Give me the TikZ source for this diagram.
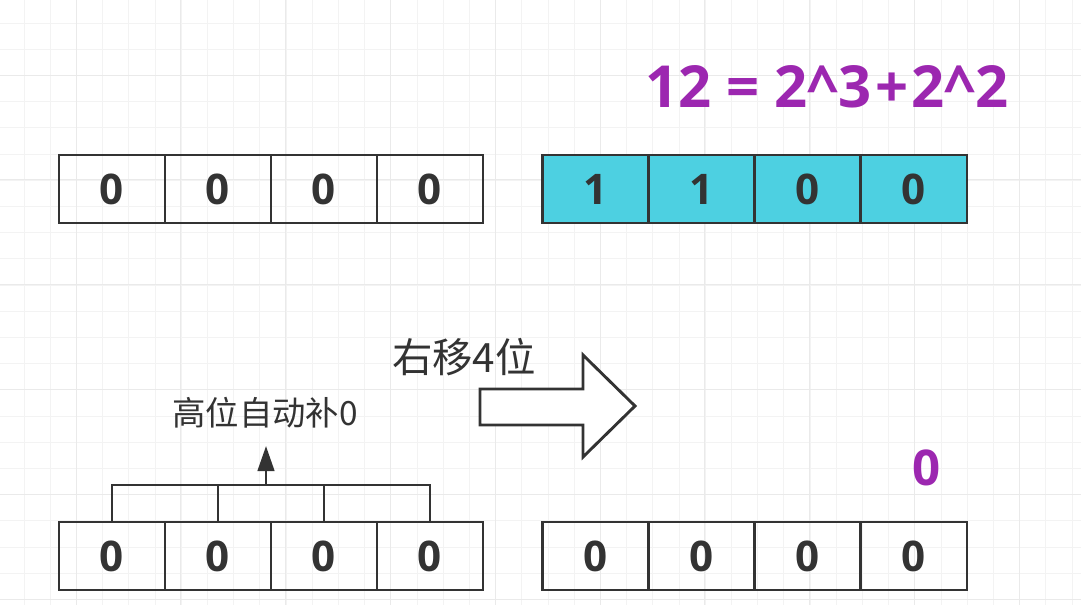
\documentclass[tikz,border=0pt]{standalone}
\usepackage{fontspec}
\setmainfont{Open Sans}
\newfontfamily\cjk{Noto Sans CJK SC}
\usetikzlibrary{arrows.meta,positioning}
\definecolor{gridminor}{HTML}{F3F3F3}
\definecolor{gridmajor}{HTML}{EAEAEA}
\definecolor{inkgray}{HTML}{333333}
\definecolor{bitcyan}{HTML}{4DD0E1}
\definecolor{sumpurple}{HTML}{9C27B0}

\begin{document}
\begin{tikzpicture}[x=0.02cm, y=-0.02cm,
    cell/.style={rectangle, draw=inkgray, line width=0.058cm, minimum width=2.12cm, minimum height=1.36cm,
    inner sep=0pt, outer sep=0pt, text=inkgray, font=\fontsize{24}{28}\selectfont\bfseries},
    link/.style={draw=inkgray, line width=0.058cm},
    uparrow/.style={-{Triangle[length=0.5cm,width=0.33cm]}, draw=inkgray, fill=inkgray, line width=0.058cm},
    note/.style={inner sep=0pt, text=inkgray},
    purpletext/.style={inner sep=0pt, text=sumpurple, font=\bfseries}]
\useasboundingbox[fill=white] (0,0) rectangle (1081,605);
\foreach \k in {0,...,41} {
  \draw[gridminor, line width=0.02cm] ({-2.2+26.2*\k},0) -- ++(0,605);
}
\foreach \k in {0,...,23} {
  \draw[gridminor, line width=0.02cm] (0,{-3.2+26.2*\k}) -- ++(1081,0);
}
\foreach \k in {0,...,9} {
  \draw[gridmajor, line width=0.02cm] ({76+104.8*\k},0) -- ++(0,605);
}
\foreach \k in {0,...,5} {
  \draw[gridmajor, line width=0.02cm] (0,{75+104.8*\k}) -- ++(1081,0);
}
\foreach \i/\v in {1/0,2/0,3/0,4/0} {
  \node[cell] (a\i) at ({6+106*\i},189) {\v};
  \node[cell] (c\i) at ({6+106*\i},556) {\v};
  \node[cell] (d\i) at ({489+106.25*\i},556) {\v};
}
\foreach \i/\v in {1/1,2/1,3/0,4/0} {
  \node[cell, fill=bitcyan] (b\i) at ({489+106.25*\i},189) {\v};
}
\node[purpletext, font=\fontsize{33}{37}\selectfont\bfseries] (sum) at (827,87) {12 = 2\textasciicircum3\kern2pt+\kern2pt2\textasciicircum2};
\node[purpletext, font=\fontsize{28}{32}\selectfont\bfseries] (zero) at (927,468) {0};
\draw[link] (c1.north) -- ++(0,-37) -| (c4.north);
\draw[link] (c2.north) -- ++(0,-37) (c3.north) -- ++(0,-37);
\coordinate (fillsrc) at (266,485);
\coordinate (filltip) at (266,446);
\draw[uparrow] (fillsrc) -- (filltip);
\node[note, font=\cjk\fontsize{19}{22}\selectfont] (fillnote) at (265,413) {高位自动补0};
\draw[link, fill=white, line join=miter] (480,389) -- (583,389) -- (583,355) -- (635,406)
  -- (583,457) -- (583,425) -- (480,425) -- cycle;
\node[note, font=\cjk\fontsize{23}{26}\selectfont] (shiftnote) at (464,357) {右移4位};
\end{tikzpicture}
\end{document}
